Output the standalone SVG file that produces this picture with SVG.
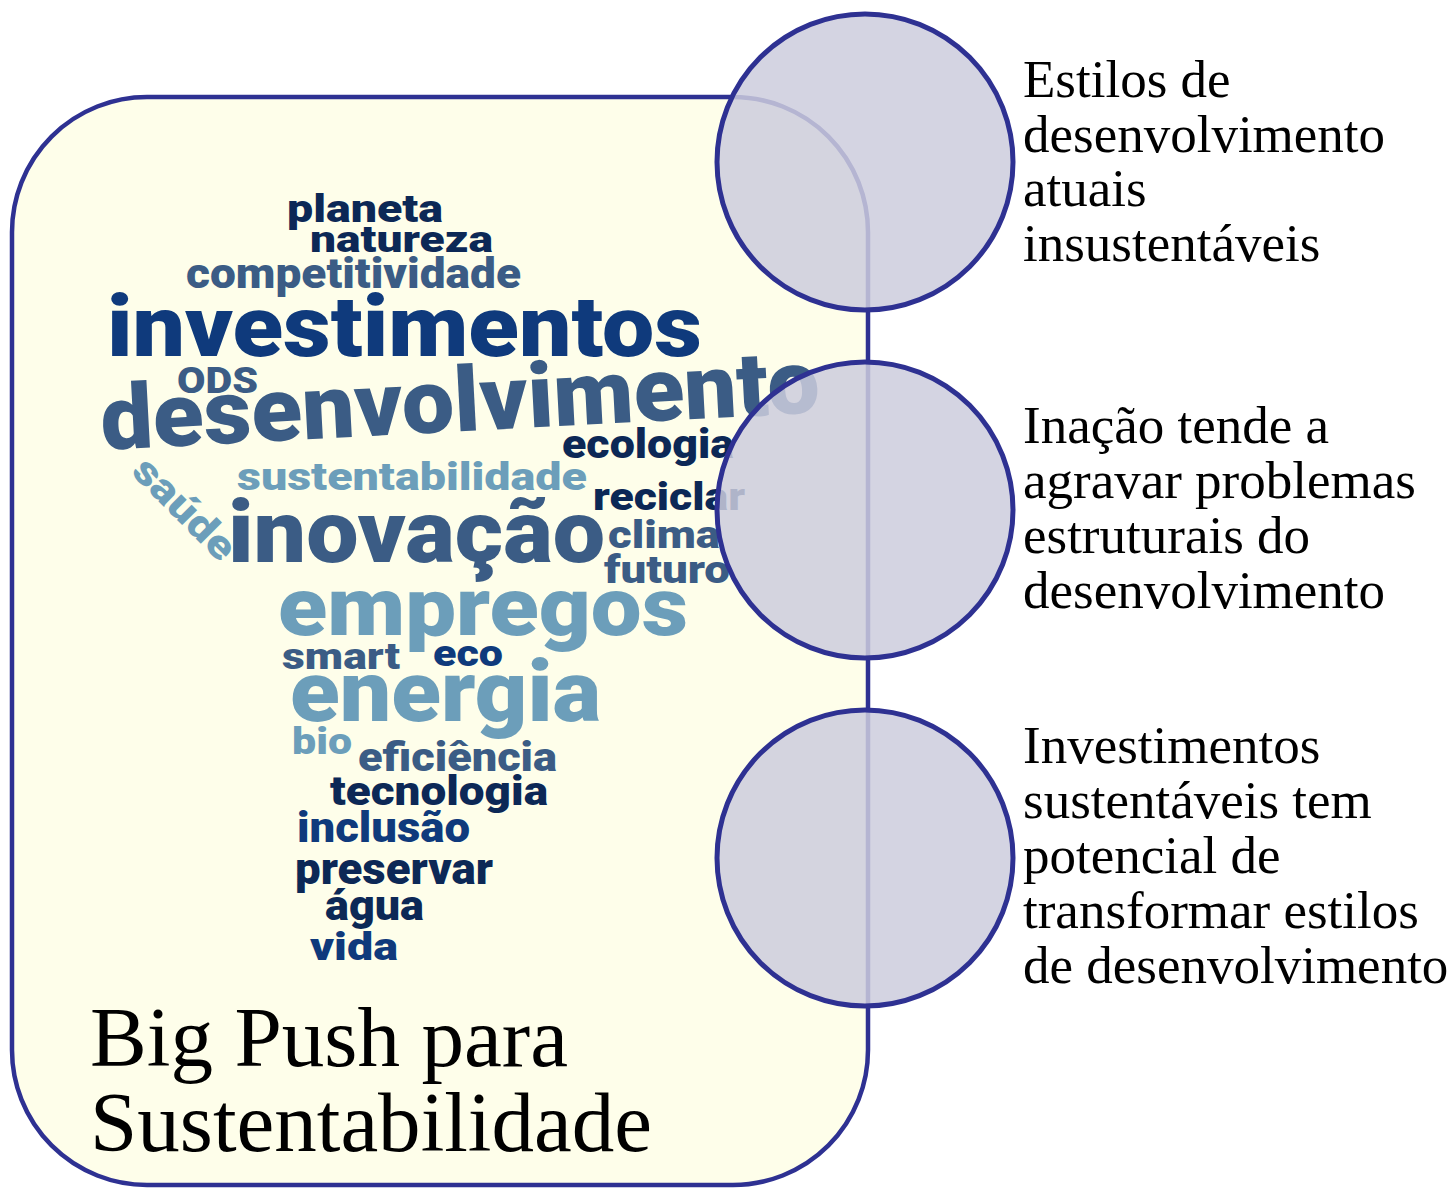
<svg xmlns="http://www.w3.org/2000/svg" width="1454" height="1188" viewBox="0 0 1454 1188">
<style>
.w{font-family:Roboto,"Open Sans","DejaVu Sans",sans-serif;font-weight:900}
.c1{fill:#0c2856}
.c2{fill:#0f3a7c}
.c3{fill:#3b5c85}
.c4{fill:#6c9eba}
.lbl{font-family:"Liberation Serif","Times New Roman",serif;font-size:53px;fill:#000}
.ttl{font-family:"Liberation Serif","Times New Roman",serif;font-size:85px;fill:#000}
.node{fill:#cdcddd;fill-opacity:0.85;stroke:#2e3192;stroke-width:5}
</style>
<rect width="1454" height="1188" fill="#fff"/>
<g id="panel">
<rect x="12" y="97" width="856" height="1088" rx="135" ry="135" fill="#fefeea" stroke="#2e3192" stroke-width="4.5"/>
<g id="wordcloud" class="w">
<text class="c1" x="287" y="222" font-size="39" textLength="156" lengthAdjust="spacingAndGlyphs">planeta</text>
<text class="c1" x="310" y="252" font-size="37" textLength="183" lengthAdjust="spacingAndGlyphs">natureza</text>
<text class="c3" x="186" y="288" font-size="43" textLength="335" lengthAdjust="spacingAndGlyphs">competitividade</text>
<text class="c2" x="107" y="356" font-size="86" textLength="595" lengthAdjust="spacingAndGlyphs">investimentos</text>
<text class="c3" x="177" y="393" font-size="36" textLength="81" lengthAdjust="spacingAndGlyphs">ODS</text>
<text class="c3" x="102" y="450" font-size="90" textLength="720" lengthAdjust="spacingAndGlyphs" transform="rotate(-3 102 450)">desenvolvimento</text>
<text class="c1" x="562" y="458" font-size="41" textLength="172" lengthAdjust="spacingAndGlyphs">ecologia</text>
<text class="c4" x="237" y="490" font-size="38" textLength="350" lengthAdjust="spacingAndGlyphs">sustentabilidade</text>
<text class="c4" x="130" y="473" font-size="40" textLength="128" lengthAdjust="spacingAndGlyphs" transform="rotate(45 130 473)">saúde</text>
<text class="c1" x="593" y="510" font-size="39" textLength="152" lengthAdjust="spacingAndGlyphs">reciclar</text>
<text class="c3" x="228" y="562" font-size="87" textLength="377" lengthAdjust="spacingAndGlyphs">inovação</text>
<text class="c3" x="608" y="548" font-size="39" textLength="112" lengthAdjust="spacingAndGlyphs">clima</text>
<text class="c3" x="604" y="583" font-size="39" textLength="126" lengthAdjust="spacingAndGlyphs">futuro</text>
<text class="c4" x="278" y="635" font-size="82" textLength="410" lengthAdjust="spacingAndGlyphs">empregos</text>
<text class="c3" x="282" y="669" font-size="37" textLength="118" lengthAdjust="spacingAndGlyphs">smart</text>
<text class="c2" x="433" y="666" font-size="37" textLength="70" lengthAdjust="spacingAndGlyphs">eco</text>
<text class="c4" x="290" y="721" font-size="85" textLength="311" lengthAdjust="spacingAndGlyphs">energia</text>
<text class="c4" x="292" y="754" font-size="37" textLength="60" lengthAdjust="spacingAndGlyphs">bio</text>
<text class="c3" x="358" y="771" font-size="41" textLength="199" lengthAdjust="spacingAndGlyphs">eficiência</text>
<text class="c1" x="330" y="805" font-size="41" textLength="218" lengthAdjust="spacingAndGlyphs">tecnologia</text>
<text class="c2" x="297" y="842" font-size="42" textLength="173" lengthAdjust="spacingAndGlyphs">inclusão</text>
<text class="c1" x="295" y="884" font-size="44" textLength="198" lengthAdjust="spacingAndGlyphs">preservar</text>
<text class="c1" x="325" y="920" font-size="42" textLength="99" lengthAdjust="spacingAndGlyphs">água</text>
<text class="c2" x="310" y="960" font-size="38" textLength="88" lengthAdjust="spacingAndGlyphs">vida</text>
</g>
<text class="ttl" x="90" y="1066" textLength="478" lengthAdjust="spacingAndGlyphs">Big Push para</text>
<text class="ttl" x="90" y="1151" textLength="562" lengthAdjust="spacingAndGlyphs">Sustentabilidade</text>
</g>
<g id="connectors"></g>
<g id="node1"><circle class="node" cx="865" cy="162" r="148"/></g>
<g id="node2"><circle class="node" cx="865" cy="510" r="148"/></g>
<g id="node3"><circle class="node" cx="865" cy="858" r="148"/></g>
<g id="label1" class="lbl">
<text x="1023" y="97">Estilos de</text>
<text x="1023" y="152">desenvolvimento</text>
<text x="1023" y="206">atuais</text>
<text x="1023" y="261">insustentáveis</text>
</g>
<g id="label2" class="lbl">
<text x="1023" y="443">Inação tende a</text>
<text x="1023" y="498">agravar problemas</text>
<text x="1023" y="553">estruturais do</text>
<text x="1023" y="608">desenvolvimento</text>
</g>
<g id="label3" class="lbl">
<text x="1023" y="763">Investimentos</text>
<text x="1023" y="818">sustentáveis tem</text>
<text x="1023" y="873">potencial de</text>
<text x="1023" y="928">transformar estilos</text>
<text x="1023" y="983">de desenvolvimento</text>
</g>
</svg>
